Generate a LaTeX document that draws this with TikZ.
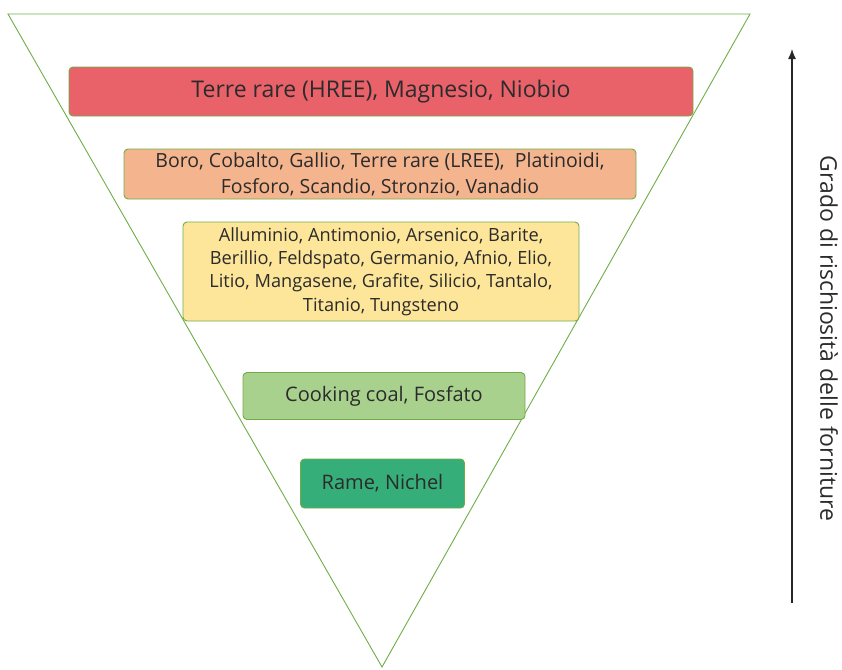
\documentclass[tikz,border=0pt]{standalone}
\usepackage{fontspec}
\setmainfont{Open Sans}
\usetikzlibrary{arrows.meta}
\definecolor{tri}{HTML}{70AD47}
\definecolor{cred}{HTML}{E9626A}
\definecolor{corange}{HTML}{F4B58E}
\definecolor{cyellow}{HTML}{FDE699}
\definecolor{clgreen}{HTML}{A9D18E}
\definecolor{cdgreen}{HTML}{35AE7A}
\definecolor{txt}{HTML}{2B2B2B}
\begin{document}
\begin{tikzpicture}[x=1pt,y=-1pt,
  tier/.style={draw=tri, line width=0.9pt, rounded corners=4pt, text=txt, align=center, inner sep=0pt},
  lbl/.style={text=txt, inner sep=0pt}]
\useasboundingbox (0,0) rectangle (842,669);
\draw[tri, line width=0.9pt] (8,14) coordinate (tl) -- (750,14) coordinate (tr) -- (382,667) coordinate (ap) -- cycle;
\node[tier, fill=cred, minimum width=624pt, minimum height=49pt, font=\fontsize{23}{26}\selectfont] (r1) at (381,91.5) {\raisebox{-1.5pt}{Terre rare (HREE), Magnesio, Niobio}};
\node[tier, fill=corange, minimum width=512pt, minimum height=50pt, font=\fontsize{19.5}{26}\selectfont] (r2) at (380,174) {Boro, Cobalto, Gallio, Terre rare (LREE),\ \ Platinoidi,\\Fosforo, Scandio, Stronzio, Vanadio};
\node[tier, fill=cyellow, minimum width=396pt, minimum height=99pt, font=\fontsize{18.2}{23.3}\selectfont] (r3) at (381,271.5) {Alluminio, Antimonio, Arsenico, Barite,\\Berillio, Feldspato, Germanio, Afnio, Elio,\\Litio, Mangasene, Grafite, Silicio, Tantalo,\\Titanio, Tungsteno};
\node[tier, fill=clgreen, minimum width=282pt, minimum height=47pt, font=\fontsize{20}{24}\selectfont] (r4) at (384,396) {Cooking coal, Fosfato};
\node[tier, fill=cdgreen, minimum width=164pt, minimum height=49pt, font=\fontsize{20}{24}\selectfont] (r5) at (382.5,483.5) {\raisebox{-1.5pt}{Rame, Nichel}};
\coordinate (ab) at (792,603);
\coordinate (at) at (792,49);
\draw[line width=1.3pt, black!85, -{Latex[length=10pt,width=8pt]}] (ab) -- (at);
\node[lbl, rotate=-90, font=\fontsize{23}{26}\selectfont] (axl) at (829,338.5) {Grado di rischiosità delle forniture};
\end{tikzpicture}
\end{document}
